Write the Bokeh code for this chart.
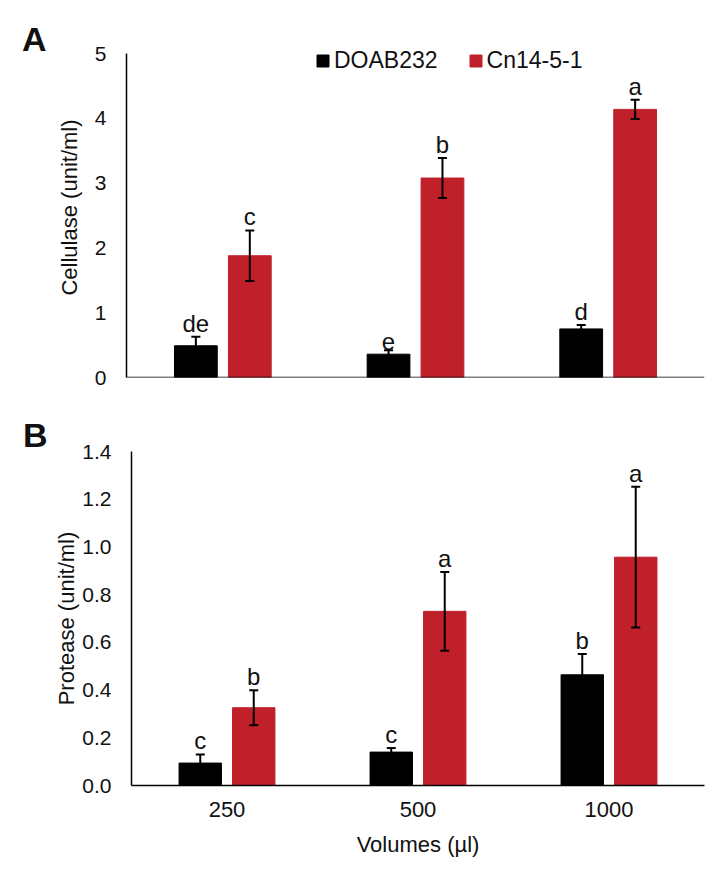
from bokeh.plotting import figure
from bokeh.models import (FactorRange, Range1d, ColumnDataSource, Whisker, TeeHead,
                          Legend, LegendItem, FixedTicker, PrintfTickFormatter, Span, Div)
from bokeh.transform import dodge
from bokeh.layouts import column, row
from bokeh.embed import file_html
from bokeh.resources import INLINE
from bokeh.core.properties import value

# ---------------- data ----------------
volumes = ["250", "500", "1000"]

cellulase_doab = [0.49, 0.36, 0.75]
cellulase_doab_err = [0.14, 0.06, 0.06]
cellulase_doab_letters = ["de", "e", "d"]
cellulase_cn = [1.88, 3.08, 4.14]
cellulase_cn_err = [0.39, 0.31, 0.15]
cellulase_cn_letters = ["c", "b", "a"]

protease_doab = [0.094, 0.14, 0.464]
protease_doab_err = [0.036, 0.017, 0.087]
protease_doab_letters = ["c", "c", "b"]
protease_cn = [0.326, 0.73, 0.957]
protease_cn_err = [0.073, 0.165, 0.295]
protease_cn_letters = ["b", "a", "a"]

cellulase_ticks = [0, 1, 2, 3, 4, 5]
protease_ticks = [0.0, 0.2, 0.4, 0.6, 0.8, 1.0, 1.2, 1.4]

series_names = ["DOAB232", "Cn14-5-1"]
panel_letters = ["A", "B"]

# ---------------- style ----------------
FONT = "Liberation Sans"
BLACK = "#000000"
RED = "#C0202A"
TXT = "#111111"
OFFSET = 0.14
BAR_W = 0.222
DIV_W = 50


def make_source(vals, errs, letters):
    return ColumnDataSource(dict(
        vol=volumes, val=vals,
        upper=[v + e for v, e in zip(vals, errs)],
        lower=[v - e for v, e in zip(vals, errs)],
        letter=letters))


def panel(doab, doab_err, doab_let, cn, cn_err, cn_let, ticks, fmt, ylabel,
          height, mb_left, mb_top, mb_bottom, show_x, ylabel_standoff, tick_standoff,
          y_end=None, legend_xy=None):
    p = figure(width=710 - DIV_W, height=height,
               x_range=FactorRange(*volumes, range_padding=0, factor_padding=0),
               y_range=Range1d(ticks[0], y_end if y_end is not None else ticks[-1]),
               output_backend="svg", toolbar_location=None,
               min_border_left=mb_left, min_border_right=6,
               min_border_top=mb_top, min_border_bottom=mb_bottom)
    p.outline_line_color = None
    p.xgrid.visible = False
    p.ygrid.visible = False

    renderers = []
    for vals, errs, lets, off, col in [(doab, doab_err, doab_let, -OFFSET, BLACK),
                                       (cn, cn_err, cn_let, OFFSET, RED)]:
        src = make_source(vals, errs, lets)
        r = p.vbar(x=dodge("vol", off, range=p.x_range), top="val", width=BAR_W,
                   source=src, fill_color=col, line_color=col)
        renderers.append(r)
        w = Whisker(base=dodge("vol", off, range=p.x_range), upper="upper", lower="lower",
                    source=src, line_width=2, line_color=BLACK, level="annotation",
                    upper_head=TeeHead(size=9, line_width=2, line_color=BLACK),
                    lower_head=TeeHead(size=9, line_width=2, line_color=BLACK))
        p.add_layout(w)
        p.text(x=dodge("vol", off, range=p.x_range), y="upper", text="letter", source=src,
               text_align="center", text_baseline="bottom", y_offset=0,
               text_font=value(FONT), text_font_size="24px", text_color=TXT)

    # y axis
    ya = p.yaxis[0]
    ya.ticker = FixedTicker(ticks=ticks)
    ya.formatter = PrintfTickFormatter(format=fmt)
    ya.bounds = (ticks[0], ticks[-1])
    ya.major_tick_line_color = None
    ya.minor_tick_line_color = None
    ya.major_tick_out = 0
    ya.major_tick_in = 0
    ya.axis_line_width = 1.5
    ya.axis_line_color = BLACK
    ya.major_label_standoff = tick_standoff
    ya.major_label_text_font = FONT
    ya.major_label_text_font_size = "21px"
    ya.major_label_text_color = TXT
    ya.axis_label = ylabel
    ya.axis_label_text_font = FONT
    ya.axis_label_text_font_size = "22px"
    ya.axis_label_text_font_style = "normal"
    ya.axis_label_text_color = TXT
    ya.axis_label_standoff = ylabel_standoff

    # x axis
    xa = p.xaxis[0]
    if show_x:
        xa.major_tick_line_color = None
        xa.minor_tick_line_color = None
        xa.major_tick_out = 0
        xa.major_tick_in = 0
        xa.axis_line_width = 1.5
        xa.axis_line_color = BLACK
        xa.major_label_standoff = 16
        xa.major_label_text_font = FONT
        xa.major_label_text_font_size = "22px"
        xa.major_label_text_color = TXT
        xa.axis_label = "Volumes (µl)"
        xa.axis_label_text_font = FONT
        xa.axis_label_text_font_size = "22px"
        xa.axis_label_text_font_style = "normal"
        xa.axis_label_text_color = TXT
        xa.axis_label_standoff = 12
    else:
        xa.visible = False
        p.add_layout(Span(location=0, dimension="width", line_color=BLACK,
                          line_width=1.5, level="annotation"))

    if legend_xy is not None:
        leg = Legend(items=[LegendItem(label=value(series_names[0]), renderers=[renderers[0]]),
                            LegendItem(label=value(series_names[1]), renderers=[renderers[1]])],
                     location=legend_xy, orientation="horizontal",
                     border_line_color=None, background_fill_alpha=0,
                     padding=0, margin=0, spacing=30,
                     glyph_width=15, glyph_height=15, label_standoff=4,
                     label_text_font=FONT, label_text_font_size="23px",
                     label_text_color=TXT)
        p.add_layout(leg)
    return p


def letter_div(text, left, top, height):
    html = ('<span style="position:relative; display:block; left:%dpx; top:%dpx; '
            'font-family:\'Liberation Sans\'; font-size:34px; font-weight:bold; '
            'line-height:1; color:%s; overflow:visible;">%s</span>' % (left, top, TXT, text))
    return Div(text=html, width=DIV_W, height=height, margin=0,
               styles={"overflow": "visible"})


pa = panel(cellulase_doab, cellulase_doab_err, cellulase_doab_letters,
           cellulase_cn, cellulase_cn_err, cellulase_cn_letters,
           cellulase_ticks, "%d", "Cellulase (unit/ml)",
           height=400, mb_left=126 - DIV_W, mb_top=37, mb_bottom=23, show_x=False,
           ylabel_standoff=10, tick_standoff=20, y_end=5.25, legend_xy=(189, 303))

pb = panel(protease_doab, protease_doab_err, protease_doab_letters,
           protease_cn, protease_cn_err, protease_cn_letters,
           protease_ticks, "%.1f", "Protease (unit/ml)",
           height=462, mb_left=131 - DIV_W, mb_top=51, mb_bottom=77, show_x=True,
           ylabel_standoff=0, tick_standoff=20)

da = letter_div(panel_letters[0], 22, 22, 400)
db = letter_div(panel_letters[1], 23, 18, 462)

layout = column(row(da, pa, spacing=0), row(db, pb, spacing=0), spacing=0)
open("out.html", "w").write(file_html(layout, INLINE))
